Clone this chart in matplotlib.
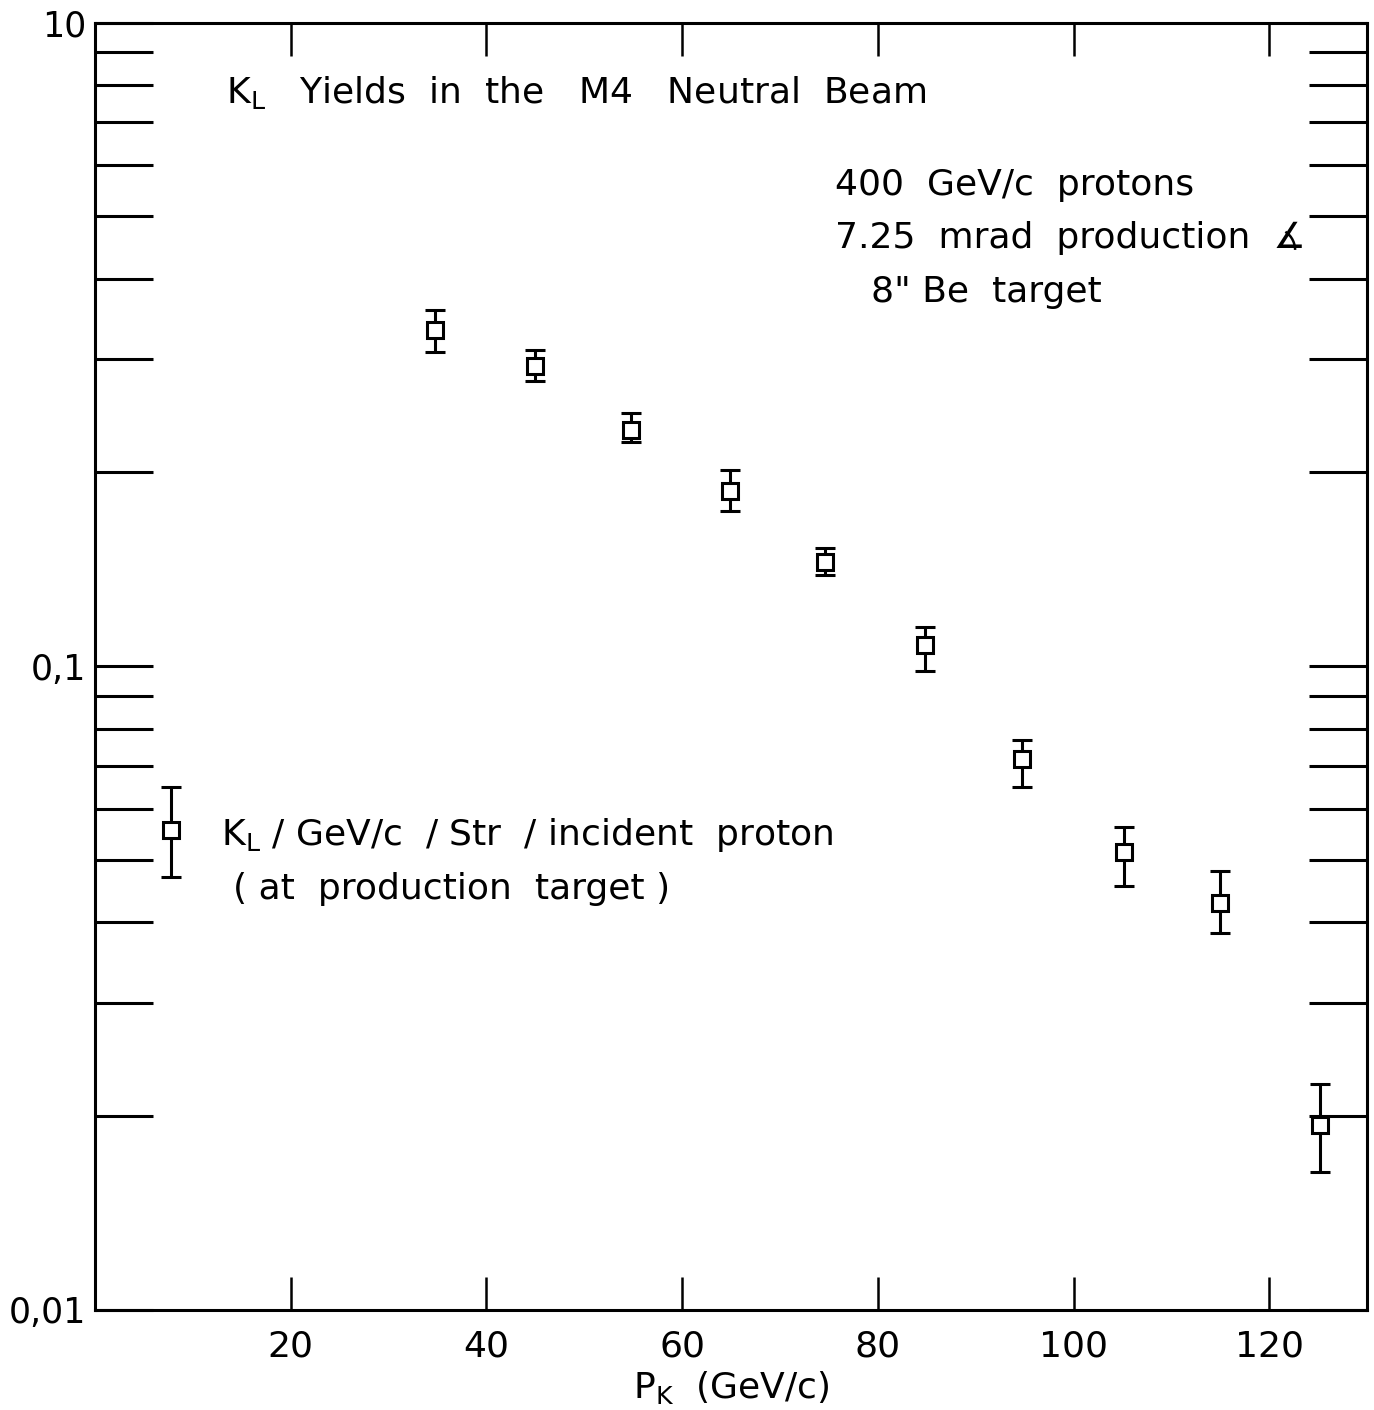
import numpy as np
import matplotlib
matplotlib.use("Agg")
import matplotlib.pyplot as plt
from matplotlib.ticker import FixedLocator, NullFormatter

plt.rcParams['font.family'] = ['DejaVu Sans']
plt.rcParams['mathtext.default'] = 'regular'

# K_L yield per GeV/c per sr per incident proton
p_k = [7.8, 34.8, 45.0, 54.8, 64.9, 74.6, 84.8, 94.7, 105.2, 115.0, 125.2]
yld = [0.0556, 0.333, 0.293, 0.233, 0.187, 0.145, 0.1077, 0.0718, 0.0514, 0.0428, 0.0194]
yld_hi = [0.0649, 0.358, 0.310, 0.247, 0.202, 0.1525, 0.1152, 0.0769, 0.0562, 0.0481, 0.0224]
yld_lo = [0.0470, 0.308, 0.277, 0.223, 0.174, 0.1385, 0.0983, 0.0649, 0.0456, 0.0385, 0.0164]

x_ticks = [20, 40, 60, 80, 100, 120]
y_ticks = [0.01, 0.1, 1]
y_tick_labels = ['0,01', '0,1', '10']   # top label is "10" on the original

fig = plt.figure(figsize=(13.74, 14.10), dpi=100)
ax = fig.add_axes([0.069, 0.071, 0.926, 0.913])

yld = np.array(yld)
err = [yld - np.array(yld_lo), np.array(yld_hi) - yld]
ax.errorbar(p_k, yld, yerr=err, fmt='s', ms=12, mfc='white', mec='black',
            mew=2.2, ecolor='black', elinewidth=2.2, capsize=7, capthick=2.8)

ax.set_yscale('log')
ax.set_xlim(0, 130)
ax.set_ylim(0.01, 1)

ax.xaxis.set_major_locator(FixedLocator(x_ticks))
ax.set_xticklabels([str(t) for t in x_ticks])
ax.yaxis.set_major_locator(FixedLocator(y_ticks))
ax.set_yticklabels(y_tick_labels)
minors = [m * d for d in (0.01, 0.1) for m in range(2, 10)]
ax.yaxis.set_minor_locator(FixedLocator(minors))
ax.yaxis.set_minor_formatter(NullFormatter())
ax.xaxis.set_minor_locator(FixedLocator([]))

ax.tick_params(axis='x', which='major', direction='in', length=24, width=1.8,
               top=True, bottom=True, labelsize=26, pad=14)
ax.tick_params(axis='y', which='major', direction='in', length=42, width=2.2,
               left=True, right=True, labelsize=25, pad=6)
ax.tick_params(axis='y', which='minor', direction='in', length=42, width=2.2,
               left=True, right=True)
for s in ax.spines.values():
    s.set_linewidth(2.2)

ax.set_xlabel('P$_K$  (GeV/c)', fontsize=26, labelpad=4)

fs = 26
ax.text(0.103, 0.946, 'K$_L$   Yields  in  the   M4   Neutral  Beam',
        transform=ax.transAxes, fontsize=fs, va='center')
ax.text(0.582, 0.874, '400  GeV/c  protons', transform=ax.transAxes,
        fontsize=fs, va='center')
ax.text(0.582, 0.833, '7.25  mrad  production  \u2221', transform=ax.transAxes,
        fontsize=fs, va='center')
ax.text(0.610, 0.791, '8" Be  target', transform=ax.transAxes,
        fontsize=fs, va='center')
ax.text(0.099, 0.369, 'K$_L$ / GeV/c  / Str  / incident  proton',
        transform=ax.transAxes, fontsize=fs, va='center')
ax.text(0.109, 0.327, '( at  production  target )',
        transform=ax.transAxes, fontsize=fs, va='center')

fig.savefig('out.png', dpi=100)
